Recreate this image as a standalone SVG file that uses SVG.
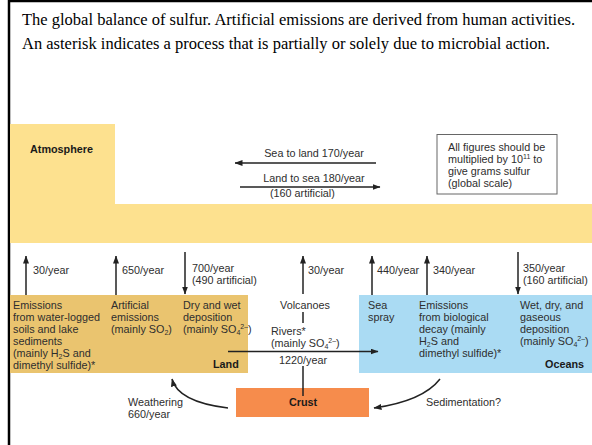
<svg xmlns="http://www.w3.org/2000/svg" width="592" height="445" viewBox="0 0 592 445">
<defs>
<marker id="ah" markerWidth="8" markerHeight="6" refX="7.5" refY="3" orient="auto" markerUnits="userSpaceOnUse">
<path d="M0,0 L8,3 L0,6 z" fill="#222"/>
</marker>
<style>
.t{font-family:"Liberation Sans",Arial,sans-serif}
.t{font-family:"Liberation Serif",serif;font-size:16.5px;fill:#000}
.l{font-family:"Liberation Sans",Arial,sans-serif;font-size:10.8px;fill:#2e2e2e}
.b{font-family:"Liberation Sans",Arial,sans-serif;font-size:10.8px;font-weight:bold;fill:#1a1a1a}
.s{font-size:7px}
.c{fill:none;stroke:#222;stroke-width:1.5}
.a{fill:none;stroke:#222;stroke-width:1.5;marker-end:url(#ah)}
</style>
</defs>
<rect width="592" height="445" fill="#fff"/>
<path d="M9,445 L9,1 L592,1" fill="none" stroke="#000" stroke-width="2.5"/>
<g id="title">
<text class="t" x="22" y="25">The global balance of sulfur. Artificial emissions are derived from human activities.</text>
<text class="t" x="22" y="49">An asterisk indicates a process that is partially or solely due to microbial action.</text>
</g>
<g id="atmosphere">
<rect x="10" y="124" width="105" height="119" fill="#fde18f"/>
<rect x="10" y="204" width="582" height="39" fill="#fde18f"/>
<text class="b" x="30" y="153">Atmosphere</text>
</g>
<g id="note">
<rect x="437" y="134.5" width="120" height="59.5" fill="#fff" stroke="#666" stroke-width="1"/>
<text class="l" x="448" y="151">All figures should be</text>
<text class="l" x="448" y="163">multiplied by 10<tspan class="s" dy="-4">11</tspan><tspan dy="4"> to</tspan></text>
<text class="l" x="448" y="175">give grams sulfur</text>
<text class="l" x="448" y="187">(global scale)</text>
</g>
<g id="land">
<rect x="10" y="295" width="238" height="78" fill="#eac46f"/>
<text class="l" x="13" y="309">Emissions</text>
<text class="l" x="13" y="321">from water-logged</text>
<text class="l" x="13" y="333">soils and lake</text>
<text class="l" x="13" y="345">sediments</text>
<text class="l" x="13" y="357">(mainly H<tspan class="s" dy="1.5">2</tspan><tspan dy="-1.5">S and</tspan></text>
<text class="l" x="13" y="369">dimethyl sulfide)*</text>
<text class="l" x="111" y="309">Artificial</text>
<text class="l" x="111" y="321">emissions</text>
<text class="l" x="111" y="333">(mainly SO<tspan class="s" dy="1.5">2</tspan><tspan dy="-1.5">)</tspan></text>
<text class="l" x="183" y="309">Dry and wet</text>
<text class="l" x="183" y="321">deposition</text>
<text class="l" x="183" y="333">(mainly SO<tspan class="s" dy="1.5">4</tspan><tspan class="s" dy="-6">2–</tspan><tspan dy="4.5">)</tspan></text>
<text class="b" x="213" y="368">Land</text>
</g>
<g id="oceans">
<rect x="359" y="295" width="233" height="78" fill="#aadbf3"/>
<text class="l" x="368" y="309">Sea</text>
<text class="l" x="368" y="321">spray</text>
<text class="l" x="419" y="309">Emissions</text>
<text class="l" x="419" y="321">from biological</text>
<text class="l" x="419" y="333">decay (mainly</text>
<text class="l" x="419" y="345">H<tspan class="s" dy="1.5">2</tspan><tspan dy="-1.5">S and</tspan></text>
<text class="l" x="419" y="357">dimethyl sulfide)*</text>
<text class="l" x="520" y="309">Wet, dry, and</text>
<text class="l" x="520" y="321">gaseous</text>
<text class="l" x="520" y="333">deposition</text>
<text class="l" x="520" y="345">(mainly SO<tspan class="s" dy="1.5">4</tspan><tspan class="s" dy="-6">2–</tspan><tspan dy="4.5">)</tspan></text>
<text class="b" x="545" y="368">Oceans</text>
</g>
<g id="crust">
<rect x="236" y="388" width="133" height="29" fill="#f68c4c"/>
<text class="b" x="303" y="406" text-anchor="middle">Crust</text>
</g>
<g id="volcanoes">
<text class="l" x="305" y="309" text-anchor="middle">Volcanoes</text>
</g>
<g id="connectors">
<line class="a" x1="26" y1="295" x2="26" y2="256"/>
<line class="a" x1="116" y1="295" x2="116" y2="256"/>
<line class="a" x1="185" y1="252" x2="185" y2="294"/>
<line class="a" x1="303" y1="294" x2="303" y2="256"/>
<line class="a" x1="372" y1="295" x2="372" y2="256"/>
<line class="a" x1="427" y1="295" x2="427" y2="256"/>
<line class="a" x1="518" y1="252" x2="518" y2="294"/>
<line class="a" x1="376" y1="163" x2="235" y2="163"/>
<line class="a" x1="240" y1="187" x2="380" y2="187"/>
<line class="a" x1="228" y1="351.5" x2="378" y2="351.5"/>
<line class="c" x1="303" y1="312" x2="303" y2="323"/>
<line class="c" x1="303" y1="366" x2="303" y2="396"/>
<path class="a" d="M228,408 Q178,402 172,379"/>
<path class="a" d="M440,379 Q423,401 374,408"/>
<text class="l" x="33" y="274">30/year</text>
<text class="l" x="122" y="274">650/year</text>
<text class="l" x="192" y="272">700/year</text>
<text class="l" x="192" y="284">(490 artificial)</text>
<text class="l" x="308" y="274">30/year</text>
<text class="l" x="377" y="274">440/year</text>
<text class="l" x="433" y="274">340/year</text>
<text class="l" x="523" y="272">350/year</text>
<text class="l" x="523" y="284">(160 artificial)</text>
<text class="l" x="314" y="157" text-anchor="middle">Sea to land 170/year</text>
<text class="l" x="314" y="182" text-anchor="middle">Land to sea 180/year</text>
<text class="l" x="270" y="197">(160 artificial)</text>
<text class="l" x="271" y="335">Rivers*</text>
<text class="l" x="271" y="347">(mainly SO<tspan class="s" dy="1.5">4</tspan><tspan class="s" dy="-6">2–</tspan><tspan dy="4.5">)</tspan></text>
<text class="l" x="303" y="364" text-anchor="middle">1220/year</text>
<text class="l" x="128" y="406">Weathering</text>
<text class="l" x="128" y="418">660/year</text>
<text class="l" x="426" y="406">Sedimentation?</text>
</g>
</svg>
